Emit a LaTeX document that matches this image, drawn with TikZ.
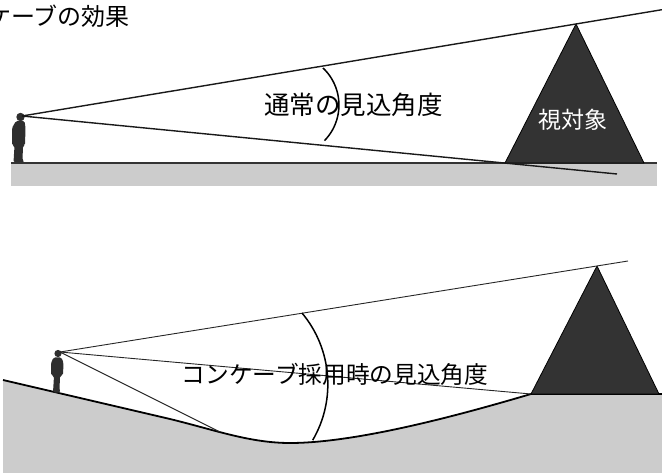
\documentclass[tikz,border=0pt]{standalone}
\usepackage{fontspec}
\newfontfamily\jpfont{Noto Sans CJK JP}
\definecolor{groundgray}{HTML}{CCCCCC}
\definecolor{targetgray}{HTML}{333333}
\definecolor{figgray}{HTML}{2E2E2E}
\definecolor{edgegray}{HTML}{333333}
\begin{document}
\begin{tikzpicture}[x=1pt,y=-1pt,
  ground/.style={fill=groundgray,draw=none},
  groundedge/.style={draw=edgegray,line width=2.2pt},
  slopeedge/.style={draw=black,line width=1.8pt,line join=round},
  sight/.style={draw=black!90,line width=1.4pt},
  thinsight/.style={draw=black!85,line width=0.9pt},
  angarc/.style={draw=black,line width=1.5pt},
  target/.style={fill=targetgray,draw=black,line width=0.8pt,line join=round},
  person/.style={fill=figgray,draw=none,rounded corners=1.5pt},
  jptext/.style={inner sep=0pt,anchor=base,font=\jpfont}
]
\useasboundingbox (0,0) rectangle (662,473);

% ---------- title (runs off the left edge) ----------
\node[jptext,anchor=base west,font=\jpfont\fontsize{24}{24}\selectfont] (title) at (-13,26) {ケーブの効果};

% ---------- upper panel: flat ground ----------
\fill[ground] (11,163) rectangle (657,186);
\draw[groundedge] (11,163) -- (657,163);

\coordinate (apexA) at (576,24);
\coordinate (baseAL) at (505,163);
\coordinate (baseAR) at (644,163);
\draw[target] (baseAL) -- (apexA) -- (baseAR) -- cycle;
\node[jptext,text=white,font=\jpfont\fontsize{23}{23}\selectfont] (targetA) at (573,128.7) {視対象};

% person on flat ground
\fill[figgray] (20.5,117) circle (4.2);
\fill[person] (16,121) -- (24.5,121) -- (25.5,128) -- (25,145) -- (23,146)
  -- (22.5,160) -- (24.5,162.5) -- (13.5,162.5) -- (14.5,146) -- (12,145)
  -- (12,128) -- cycle;

\coordinate (eyeA) at (22,116);
\coordinate (upEndA) at (662,9.7);
\coordinate (lowEndA) at (617,174);
\draw[sight] (eyeA) -- (upEndA);
\draw[sight] (eyeA) -- (lowEndA);

\draw[angarc] (323,68) arc[start angle=-46.6,end angle=44.2,radius=51];
\node[jptext,font=\jpfont\fontsize{25.5}{25.5}\selectfont] (angleA) at (353.5,114.7) {通常の見込角度};

% ---------- lower panel: concave ground ----------
\fill[ground] (3,380) -- (170,419) .. controls (215,430) and (250,443) .. (290,443)
  .. controls (360,443) and (470,412) .. (531,394) -- (662,394) -- (662,473) -- (3,473) -- cycle;
\draw[slopeedge] (3,380) -- (170,419) .. controls (215,430) and (250,443) .. (290,443)
  .. controls (360,443) and (470,412) .. (531,394) -- (662,394);

\coordinate (apexB) at (597,266);
\coordinate (baseBL) at (531,394);
\coordinate (baseBR) at (659,394);
\draw[target] (baseBL) -- (apexB) -- (baseBR) -- cycle;

% person on the slope
\fill[figgray] (58,353.5) circle (3.6);
\fill[person] (53.5,357.5) -- (61.5,357.5) -- (63.5,363) -- (63,375) -- (60,376)
  -- (59.5,390) -- (60.5,392.5) -- (53,392.5) -- (54,376) -- (51,375)
  -- (51,363) -- cycle;

\coordinate (eyeB) at (60,352);
\coordinate (upEndB) at (628,261);
\coordinate (touchB) at (220,432);
\draw[thinsight] (eyeB) -- (upEndB);
\draw[thinsight] (eyeB) -- (baseBL);
\draw[thinsight] (eyeB) -- (touchB);

\draw[angarc] (302,313) arc[start angle=-39.9,end angle=30.3,radius=111];
\node[jptext,font=\jpfont\fontsize{23.7}{23.7}\selectfont] (angleB) at (335,384) {コンケーブ採用時の見込角度};
\end{tikzpicture}
\end{document}
